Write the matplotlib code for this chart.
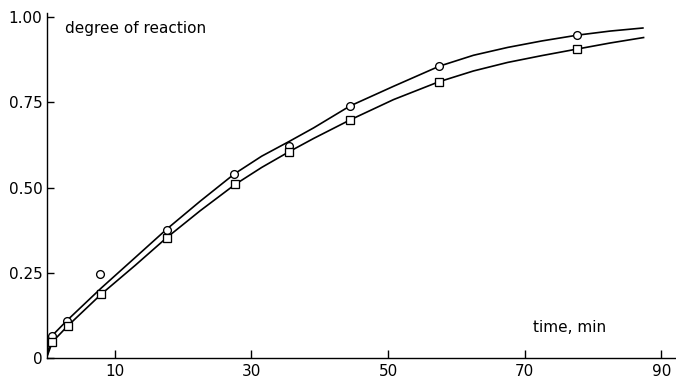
import matplotlib
matplotlib.use("Agg")
import matplotlib.pyplot as plt

# measured points
circle_t = [0.8, 3.0, 7.9, 17.6, 27.5, 35.5, 44.4, 57.5, 77.7]
circle_y = [0.065, 0.109, 0.246, 0.375, 0.540, 0.623, 0.739, 0.856, 0.947]
square_t = [0.85, 3.1, 8.0, 17.6, 27.6, 35.5, 44.4, 57.4, 77.6]
square_y = [0.047, 0.094, 0.187, 0.353, 0.509, 0.605, 0.698, 0.809, 0.906]

# fitted curves
upper_t = [0, 0.8, 3, 8, 13, 17.6, 22.5, 27.5, 31.5, 35.5, 39.1, 44.4, 50.8, 57.5, 62.5, 67.5, 72.5, 77.7, 82.5, 87.3]
upper_y = [0, 0.065, 0.11, 0.205, 0.295, 0.378, 0.46, 0.54, 0.592, 0.635, 0.675, 0.739, 0.797, 0.856, 0.888, 0.911, 0.930, 0.947, 0.959, 0.968]
lower_t = [0, 0.85, 3.1, 8, 13, 17.6, 22.5, 27.6, 31.5, 35.5, 39.1, 44.4, 50.8, 57.4, 62.5, 67.5, 72.5, 77.6, 82.5, 87.4]
lower_y = [0, 0.047, 0.094, 0.187, 0.272, 0.353, 0.432, 0.509, 0.559, 0.605, 0.644, 0.698, 0.758, 0.810, 0.842, 0.867, 0.887, 0.906, 0.924, 0.940]

x_ticks = [10, 30, 50, 70, 90]
y_ticks = [0, 0.25, 0.50, 0.75, 1.00]
y_ticklabels = ["0", "0.25", "0.50", "0.75", "1.00"]

plt.rcParams['font.family'] = ['DejaVu Sans']
W, H = 676, 379
fig = plt.figure(figsize=(W / 100, H / 100), dpi=100)
ax = fig.add_axes([46.5 / W, 21 / H, (675 - 46.5) / W, 345 / H])

ax.plot(upper_t, upper_y, color='black', lw=1.2, solid_joinstyle='round')
ax.plot(lower_t, lower_y, color='black', lw=1.2, solid_joinstyle='round')
ax.plot(circle_t, circle_y, linestyle='none', marker='o', ms=5.6, mfc='white', mec='black', mew=0.95)
ax.plot(square_t, square_y, linestyle='none', marker='s', ms=5.2, mfc='white', mec='black', mew=0.95)

ax.set_xlim(0, 92.0)
ax.set_ylim(0, 1.012)
ax.set_xticks(x_ticks)
ax.set_xticklabels([str(v) for v in x_ticks])
ax.set_yticks(y_ticks)
ax.set_yticklabels(y_ticklabels)
ax.tick_params(axis='x', direction='in', length=6, width=1, pad=4, labelsize=11)
ax.tick_params(axis='y', direction='in', length=5, width=1, pad=3, labelsize=11)
for s in ['top', 'right']:
    ax.spines[s].set_visible(False)
for s in ['left', 'bottom']:
    ax.spines[s].set_linewidth(1.0)

fig.text(65 / W, 1 - 28 / H, "degree of reaction", fontsize=11, va='center', ha='left')
fig.text(533 / W, 1 - 327 / H, "time, min", fontsize=11, va='center', ha='left')

fig.savefig("out.png", dpi=100)
